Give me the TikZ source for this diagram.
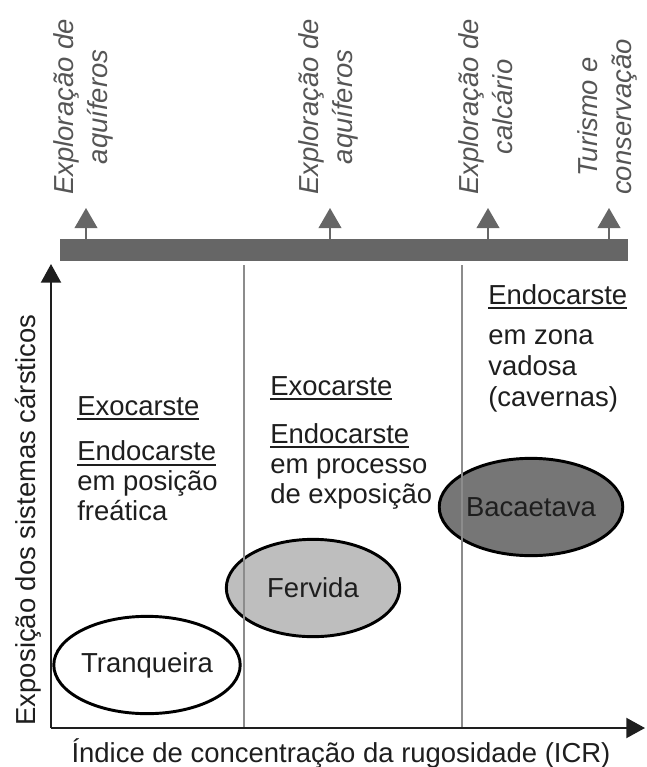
\documentclass[tikz,border=0pt]{standalone}
\usepackage{fontspec}
\setmainfont{Liberation Sans}
\usetikzlibrary{arrows.meta,shapes.geometric}
\definecolor{bargray}{RGB}{102,102,102}
\definecolor{labgray}{RGB}{85,85,85}
\definecolor{sepgray}{RGB}{140,140,140}
\definecolor{lightfill}{RGB}{190,190,190}
\definecolor{darkfill}{RGB}{118,118,118}
\definecolor{ink}{RGB}{30,30,30}
\newcommand{\ulword}[1]{\leavevmode\setbox0\hbox{#1}\rlap{\rule[-3.6pt]{\wd0}{1.4pt}}\box0}

\begin{document}
\begin{tikzpicture}[x=0.75pt,y=-0.75pt,
  txt/.style={font=\fontsize{20.6}{22.5}\selectfont,text=ink,inner sep=0pt,align=left,anchor=west},
  uselabel/.style={font=\fontsize{20.6}{25.5}\selectfont\itshape,text=labgray,rotate=90,anchor=west,align=center,inner sep=0pt},
  site/.style={ellipse,draw=black,line width=2.2pt,minimum width=130pt,minimum height=73pt,inner sep=0pt,font=\fontsize{20.6}{22}\selectfont,text=ink},
  axis/.style={draw=ink,line width=1.5pt,-{Triangle[width=15pt,length=14pt]}},
  usearrow/.style={draw=bargray,line width=1.2pt,-{Triangle[width=17pt,length=15pt]}},
  sep/.style={draw=sepgray,line width=1.2pt}]
\useasboundingbox (0,0) rectangle (646,767);
% uses along the bar
\node[fill=bargray,minimum width=426pt,minimum height=16.5pt,inner sep=0pt] (bar) at (344,250) {};
\foreach \x [count=\i] in {86,330,488,609}
  {\coordinate (t\i) at (\x,208);
   \draw[usearrow] (bar.north -| t\i) -- (t\i);}
\node[uselabel] (use1) at (83,195) {Exploração de\\aquíferos};
\node[uselabel] (use2) at (328,195) {Exploração de\\aquíferos};
\node[uselabel] (use3) at (486,195) {Exploração de\\calcário};
\node[uselabel] (use4) at (607,195) {Turismo e\\conservação};
% axes
\coordinate (o) at (51,728);
\coordinate (ytip) at (51,264);
\coordinate (xtip) at (645,728);
\draw[axis] (o) -- (ytip);
\draw[axis] (o) -- (xtip);
\node[font=\fontsize{20.6}{22}\selectfont,text=ink,rotate=90] (ylab) at (28,520) {Exposição dos sistemas cársticos};
\node[font=\fontsize{20.6}{22}\selectfont,text=ink] (xlab) at (341,753) {Índice de concentração da rugosidade (ICR)};
% karst systems
\node[site,fill=white] (tranq) at (147,665) {Tranqueira};
\node[site,fill=lightfill] (ferv) at (313,588) {Fervida};
\node[site,fill=darkfill] (bacae) at (531,507) {Bacaetava};
% zone limits
\foreach \x in {244,462}
  {\draw[sep] (\x,265) -- (\x,727);}
% zone texts
\node[txt] (exo1) at (77,408) {\ulword{Exocarste}};
\node[txt] (endo1) at (77,481) {\ulword{Endocarste}\\em posição\\freática};
\node[txt] (exo2) at (270,388) {\ulword{Exocarste}};
\node[txt] (endo2) at (270,466) {\ulword{Endocarste}\\em processo\\de exposição};
\node[txt] (endo3) at (488,297) {\ulword{Endocarste}};
\node[txt,font=\fontsize{20.6}{23.5}\selectfont] (vad3) at (488,371) {em zona\\vadosa\\(cavernas)};
\end{tikzpicture}
\end{document}
